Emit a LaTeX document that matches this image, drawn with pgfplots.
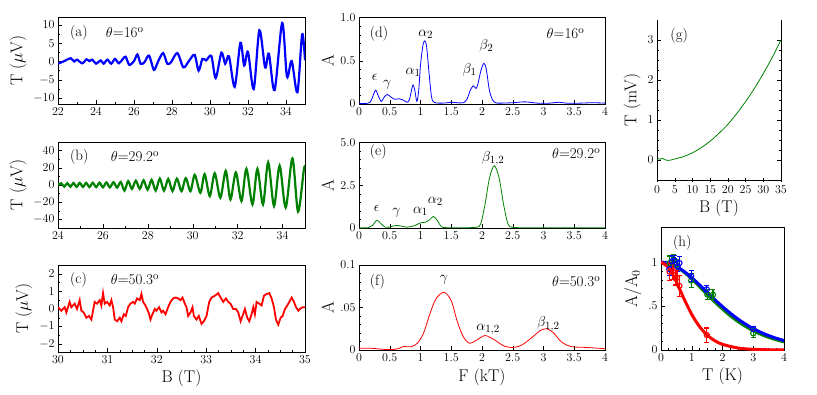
\documentclass[border=0pt]{standalone}
\usepackage{pgfplots}
\pgfplotsset{compat=1.18}
\definecolor{myblue}{RGB}{0,0,255}
\definecolor{mygreen}{RGB}{0,128,0}
\definecolor{myred}{RGB}{255,0,0}
\tikzset{annot/.style={font=\fontsize{15}{17}\selectfont}}
\pgfplotsset{
  every axis/.append style={
    scale only axis,
    tick align=inside,
    tick pos=left,
    major tick length=4pt,
    minor tick length=2.2pt,
    tick style={black, line width=0.4pt},
    axis line style={line width=0.5pt},
    tick label style={font=\fontsize{12}{14}\selectfont},
    label style={font=\fontsize{17}{20}\selectfont},
    clip=true,
  },
}
\begin{document}
\begin{tikzpicture}
\useasboundingbox (0pt,0pt) rectangle (817pt,-394pt);

% ---------------- (a)
\begin{axis}[at={(58pt,-17.5pt)}, anchor=north west, width=247pt, height=86.5pt,
  xmin=22, xmax=35, ymin=-11.6, ymax=12,
  xtick={22,24,...,34}, minor x tick num=1,
  ytick={-10,-5,0,5,10}, minor y tick num=1,
  ylabel={T ($\mu$V)}]
\addplot[myblue, line width=2.2pt, smooth, tension=0.5] coordinates {
(22.0,-0.6)(22.2,-0.2)(22.4,0.3)(22.67,0.9)(22.85,0.0)(23.0,0.5)(23.28,-0.5)(23.5,0.6)
(23.65,0.1)(23.81,0.5)(24.0,-0.6)(24.25,0.3)(24.4,-0.6)(24.6,0.5)(24.8,-0.6)(25.0,0.7)
(25.2,-0.5)(25.4,0.6)(25.56,1.3)(25.75,-0.9)(26.0,0.1)(26.18,1.9)(26.35,-0.6)(26.55,-0.2)
(26.79,1.6)(27.05,-2.3)(27.25,-0.2)(27.53,2.3)(27.75,-0.6)(27.95,-0.2)(28.28,2.3)(28.6,-1.6)
(28.9,0.2)(29.19,1.8)(29.4,-2.5)(29.6,0.7)(29.8,0.3)(30.07,1.5)(30.3,-4.5)(30.6,2.4)
(30.8,-0.6)(31.0,1.4)(31.3,-6.9)(31.6,5.1)(31.8,-1.1)(32.0,2.6)(32.3,-7.5)(32.6,8.5)
(32.9,-1.6)(33.1,2.1)(33.4,-7.8)(33.8,10.5)(34.05,-4.1)(34.3,0.1)(34.6,-8.4)(34.85,7.4)(35.0,0.3)
};
\node[annot, anchor=west] at (rel axis cs:0.035,0.82) {(a)};
\node[annot, anchor=west] at (rel axis cs:0.18,0.82) {$\theta$=16$^{\rm o}$};
\end{axis}

% ---------------- (b)
\begin{axis}[at={(58pt,-142pt)}, anchor=north west, width=247pt, height=86pt,
  xmin=24, xmax=35, ymin=-50, ymax=50,
  xtick={24,26,...,34}, minor x tick num=1,
  ytick={-40,-20,0,20,40}, minor y tick num=1,
  ylabel={T ($\mu$V)}]
\addplot[mygreen, line width=2.2pt, smooth, tension=0.5] coordinates {
(24.0,0)(24.145,2.0)(24.28,-2.0)(24.413,2.2)(24.55,-2.0)(24.688,2.3)(24.83,-2.2)(24.968,2.5)
(25.11,-2.3)(25.255,2.5)(25.40,-2.5)(25.548,2.6)(25.70,-2.5)(25.849,2.8)(26.00,-2.7)(26.157,3.0)
(26.31,-2.8)(26.472,3.2)(26.63,-3.0)(26.795,3.5)(26.96,-6.5)(27.125,4.5)(27.29,-4.5)(27.464,5.0)
(27.64,-4.5)(27.812,5.5)(27.99,-5.5)(28.168,6.0)(28.35,-6.5)(28.534,7.5)(28.72,-6.5)(28.909,7.0)
(29.10,-7.0)(29.295,7.5)(29.5,-7.2)(29.69,8.0)(29.9,-7.2)(30.09,11.8)(30.34,-9.1)(30.53,12.6)
(30.76,-12.9)(30.98,13.7)(31.23,-14.9)(31.47,16.4)(31.68,-16.8)(31.92,14.5)(32.17,-18.7)(32.39,18.7)
(32.66,-22.5)(32.88,18.7)(33.13,-22.5)(33.36,26.3)(33.62,-24.4)(33.87,22.5)(34.14,-26.3)(34.44,30.9)
(34.69,-30.9)(34.95,18)(35.0,20)
};
\node[annot, anchor=west] at (rel axis cs:0.035,0.83) {(b)};
\node[annot, anchor=west] at (rel axis cs:0.2,0.83) {$\theta$=29.2$^{\rm o}$};
\end{axis}

% ---------------- (c)
\begin{axis}[at={(58pt,-265pt)}, anchor=north west, width=247pt, height=87pt,
  xmin=30, xmax=35, ymin=-2.45, ymax=2.5,
  xtick={30,...,35}, minor x tick num=3,
  ytick={-2,-1,0,1,2}, minor y tick num=1,
  xlabel={B (T)}, ylabel={T ($\mu$V)}]
\addplot[myred, line width=1.8pt] coordinates {
(30.000,0.1)(30.068,-0.1)(30.135,0.1)(30.169,-0.2)(30.236,0.4)(30.270,0.1)(30.338,0.3)(30.385,0)
(30.439,0.5)(30.473,-0.1)(30.520,-0.2)(30.574,-0.5)(30.628,-0.4)(30.676,-0.6)(30.709,-0.1)(30.743,0.4)
(30.791,0.3)(30.845,0.5)(30.878,0.2)(30.912,0.9)(30.946,0.3)(30.993,0.4)(31.047,0.2)(31.081,0.5)
(31.115,0.1)(31.149,-0.6)(31.196,-0.7)(31.250,-0.5)(31.284,-0.7)(31.331,-0.3)(31.372,-0.4)(31.419,0.1)
(31.466,0.3)(31.520,0.4)(31.554,0.3)(31.601,0.6)(31.655,0.5)(31.689,0.85)(31.723,0.4)(31.770,0.2)
(31.804,0)(31.845,-0.3)(31.872,-0.6)(31.912,-0.3)(31.959,0)(31.993,-0.1)(32.047,0.1)(32.095,-0.2)
(32.128,-0.1)(32.176,-0.3)(32.230,0.1)(32.277,0.4)(32.331,0.6)(32.378,0.65)(32.432,0.6)(32.480,0.5)
(32.520,0.65)(32.568,0.3)(32.601,0.1)(32.635,-0.4)(32.682,-0.2)(32.723,0.1)(32.750,-0.4)(32.804,-0.6)
(32.851,-0.4)(32.905,-0.85)(32.953,-0.7)(33.007,-0.4)(33.061,0.4)(33.108,0.65)(33.176,0.75)(33.243,0.9)
(33.291,0.65)(33.345,0.4)(33.399,0.6)(33.446,0.4)(33.493,0.3)(33.547,0)(33.601,0)(33.649,-0.2)
(33.696,-0.7)(33.736,-0.4)(33.784,0)(33.831,-0.5)(33.872,-0.7)(33.919,-0.3)(33.953,0.1)(33.986,-0.3)
(34.020,0.4)(34.074,0.3)(34.122,0.2)(34.169,0.75)(34.223,0.85)(34.277,0.9)(34.324,0.6)(34.372,0.1)
(34.412,-0.6)(34.459,-0.9)(34.507,-0.5)(34.547,-0.4)(34.595,0)(34.642,0.2)(34.682,0.4)(34.730,0.65)
(34.777,0.4)(34.818,0.1)(34.865,-0.1)(34.899,0)(34.953,0.1)(35.000,0.1)
};
\node[annot, anchor=west] at (rel axis cs:0.035,0.83) {(c)};
\node[annot, anchor=west] at (rel axis cs:0.2,0.83) {$\theta$=50.3$^{\rm o}$};
\end{axis}

% ---------------- (d)
\begin{axis}[at={(359pt,-17.5pt)}, anchor=north west, width=246pt, height=86.5pt,
  xmin=0, xmax=4, ymin=0, ymax=1,
  xtick={0,0.5,...,4}, xticklabels={0,0.5,1,1.5,2,2.5,3,3.5,4},
  ytick={0,0.5,1}, yticklabels={0,0.5,1.0}, minor y tick num=4,
  ylabel={A}]
\addplot[myblue, line width=0.8pt, smooth, tension=0.5] coordinates {
(0.00,0.005)(0.10,0.005)(0.18,0.02)(0.22,0.08)(0.27,0.16)(0.31,0.10)(0.36,0.03)(0.41,0.08)
(0.46,0.11)(0.52,0.08)(0.58,0.055)(0.65,0.06)(0.72,0.045)(0.78,0.02)(0.82,0.05)(0.86,0.18)
(0.88,0.22)(0.91,0.15)(0.94,0.03)(0.97,0.15)(1.00,0.45)(1.04,0.68)(1.07,0.73)(1.10,0.66)
(1.14,0.35)(1.18,0.08)(1.22,0.02)(1.30,0.01)(1.40,0.012)(1.50,0.02)(1.60,0.015)(1.70,0.015)
(1.76,0.06)(1.81,0.16)(1.86,0.21)(1.90,0.18)(1.93,0.22)(1.98,0.38)(2.03,0.47)(2.07,0.40)
(2.12,0.16)(2.17,0.05)(2.22,0.015)(2.30,0.01)(2.50,0.015)(2.70,0.025)(2.90,0.01)(3.10,0.01)
(3.25,0.02)(3.40,0.008)(3.60,0.01)(3.80,0.015)(4.00,0.01)
};
\node[annot, anchor=west] at (rel axis cs:0.03,0.81) {(d)};
\node[annot, anchor=east] at (rel axis cs:0.93,0.81) {$\theta$=16$^{\rm o}$};
\node[annot] at (axis cs:0.255,0.31) {$\epsilon$};
\node[annot] at (axis cs:0.46,0.22) {$\gamma$};
\node[annot] at (axis cs:0.88,0.37) {$\alpha_1$};
\node[annot] at (axis cs:1.085,0.80) {$\alpha_2$};
\node[annot] at (axis cs:1.8,0.40) {$\beta_1$};
\node[annot] at (axis cs:2.07,0.67) {$\beta_2$};
\end{axis}

% ---------------- (e)
\begin{axis}[at={(359pt,-142.5pt)}, anchor=north west, width=246pt, height=85.5pt,
  xmin=0, xmax=4, ymin=0, ymax=5,
  xtick={0,0.5,...,4}, xticklabels={0,0.5,1,1.5,2,2.5,3,3.5,4},
  ytick={0,2.5,5}, yticklabels={0,2.5,5.0}, minor y tick num=4,
  ylabel={A}]
\addplot[mygreen, line width=0.8pt, smooth, tension=0.5] coordinates {
(0.00,0.01)(0.15,0.02)(0.22,0.15)(0.29,0.45)(0.36,0.25)(0.43,0.04)(0.52,0.08)(0.61,0.15)
(0.70,0.10)(0.78,0.05)(0.85,0.09)(0.92,0.16)(1.00,0.30)(1.08,0.34)(1.14,0.45)(1.21,0.68)
(1.27,0.45)(1.34,0.08)(1.42,0.02)(1.60,0.02)(1.80,0.02)(1.92,0.05)(1.98,0.25)(2.05,1.4)
(2.12,2.9)(2.20,3.64)(2.28,2.9)(2.35,1.4)(2.42,0.25)(2.48,0.05)(2.60,0.02)(3.00,0.02)
(3.50,0.02)(4.00,0.02)
};
\node[annot, anchor=west] at (rel axis cs:0.03,0.89) {(e)};
\node[annot, anchor=east] at (rel axis cs:0.995,0.87) {$\theta$=29.2$^{\rm o}$};
\node[annot] at (axis cs:0.29,1.17) {$\epsilon$};
\node[annot] at (axis cs:0.61,0.88) {$\gamma$};
\node[annot] at (axis cs:1.0,0.97) {$\alpha_1$};
\node[annot] at (axis cs:1.24,1.56) {$\alpha_2$};
\node[annot] at (axis cs:2.18,4.08) {$\beta_{1,2}$};
\end{axis}

% ---------------- (f)
\begin{axis}[at={(359pt,-265pt)}, anchor=north west, width=246pt, height=85pt,
  xmin=0, xmax=4, ymin=0, ymax=0.1,
  xtick={0,0.5,...,4}, xticklabels={0,0.5,1,1.5,2,2.5,3,3.5,4},
  ytick={0,0.05,0.1}, yticklabels={0,.05,0.1}, minor y tick num=4,
  xlabel={F (kT)}, ylabel={A}]
\addplot[myred, line width=0.8pt, smooth, tension=0.5] coordinates {
(0.00,0.002)(0.20,0.002)(0.40,0.0008)(0.55,0.0005)(0.65,0.002)(0.72,0.004)(0.85,0.004)(0.95,0.008)
(1.05,0.020)(1.15,0.042)(1.25,0.060)(1.38,0.068)(1.50,0.058)(1.60,0.033)(1.70,0.015)(1.80,0.008)
(1.92,0.012)(2.05,0.017)(2.20,0.012)(2.35,0.005)(2.50,0.003)(2.65,0.006)(2.80,0.014)(2.95,0.023)
(3.05,0.025)(3.15,0.021)(3.30,0.009)(3.45,0.004)(3.70,0.003)(4.00,0.0015)
};
\node[annot, anchor=west] at (rel axis cs:0.03,0.80) {(f)};
\node[annot, anchor=east] at (rel axis cs:0.995,0.80) {$\theta$=50.3$^{\rm o}$};
\node[annot] at (axis cs:1.38,0.083) {$\gamma$};
\node[annot] at (axis cs:2.1,0.0243) {$\alpha_{1,2}$};
\node[annot] at (axis cs:3.08,0.0306) {$\beta_{1,2}$};
\end{axis}

% ---------------- (g)
\begin{axis}[at={(657pt,-20pt)}, anchor=north west, width=124pt, height=160pt,
  axis x line=bottom, axis y line=box, x axis line style={-}, y axis line style={-},
  xmin=0, xmax=35, ymin=-0.5, ymax=3.5,
  xtick={0,5,...,35}, ytick={0,1,2,3}, minor y tick num=3,
  xlabel={B (T)}, ylabel={T (mV)},
  xlabel style={font=\fontsize{17}{20}\selectfont},
  ylabel style={font=\fontsize{17}{20}\selectfont}]
\addplot[mygreen, line width=0.8pt, smooth] coordinates {
(0,0.02)(0.5,0.03)(1,0.02)(1.5,0.04)(2,0.02)(2.5,0.0)(3,-0.01)(4,0.0)(5,0.025)(7.5,0.085)
(10,0.18)(12.5,0.31)(15,0.47)(17.5,0.67)(20,0.89)(22.5,1.16)(25,1.46)(27.5,1.79)(30,2.16)
(32.5,2.56)(35,3.0)
};
\node[annot, anchor=west] at (rel axis cs:0.08,0.9) {(g)};
\end{axis}

% ---------------- (h)
\begin{axis}[at={(661pt,-227pt)}, anchor=north west, width=123pt, height=123pt,
  xmin=0, xmax=4, ymin=0, ymax=1.4,
  xtick={0,1,2,3,4}, minor x tick num=3,
  ytick={0,0.5,1}, yticklabels={0,.5,1}, minor y tick num=4,
  xlabel={T (K)}, ylabel={A/A$_0$}]
\addplot[mygreen, line width=3pt, smooth] coordinates {
(0,1)(0.25,0.986)(0.5,0.947)(0.75,0.886)(1,0.809)(1.25,0.722)(1.5,0.634)(1.75,0.547)(2,0.466)
(2.25,0.391)(2.5,0.325)(2.75,0.268)(3,0.219)(3.25,0.178)(3.5,0.144)(3.75,0.116)(4,0.0925)};
\addplot[myblue, line width=3pt, smooth] coordinates {
(0,1)(0.25,0.988)(0.5,0.951)(0.75,0.894)(1,0.823)(1.25,0.742)(1.5,0.657)(1.75,0.573)(2,0.494)
(2.25,0.420)(2.5,0.353)(2.75,0.2945)(3,0.243)(3.25,0.2005)(3.5,0.164)(3.75,0.1334)(4,0.108)};
\addplot[myred, line width=3pt, smooth] coordinates {
(0,1)(0.25,0.936)(0.5,0.776)(0.75,0.581)(1,0.405)(1.25,0.268)(1.5,0.17)(1.75,0.1057)(2,0.0642)
(2.5,0.0226)(3,0.0077)(3.5,0.0025)(4,0.0008)};
\addplot[mygreen, only marks, mark=o, mark size=2.6pt, line width=1.1pt,
  error bars/.cd, y dir=both, y explicit, error bar style={line width=1.1pt}, error mark options={rotate=90, mark size=2.5pt, line width=1.1pt}]
  coordinates {(0.28,0.99)+-(0,0.08)(0.41,1.03)+-(0,0.06)(0.50,0.97)+-(0,0.06)(0.98,0.79)+-(0,0.08)
  (1.51,0.63)+-(0,0.06)(1.69,0.63)+-(0,0.06)(3.0,0.19)+-(0,0.05)};
\addplot[myblue, only marks, mark=o, mark size=2.6pt, line width=1.1pt,
  error bars/.cd, y dir=both, y explicit, error bar style={line width=1.1pt}, error mark options={rotate=90, mark size=2.5pt, line width=1.1pt}]
  coordinates {(0.27,0.92)+-(0,0.07)(0.36,1.01)+-(0,0.06)(0.44,1.02)+-(0,0.06)(0.54,0.95)+-(0,0.06)
  (0.60,0.99)+-(0,0.07)(0.98,0.84)+-(0,0.06)(1.49,0.69)+-(0,0.04)(3.0,0.24)+-(0,0.03)};
\addplot[myred, only marks, mark=o, mark size=2.6pt, line width=1.1pt,
  error bars/.cd, y dir=both, y explicit, error bar style={line width=1.1pt}, error mark options={rotate=90, mark size=2.5pt, line width=1.1pt}]
  coordinates {(0.28,0.89)+-(0,0.1)(0.39,0.90)+-(0,0.1)(0.46,0.82)+-(0,0.08)(0.52,0.82)+-(0,0.08)
  (0.60,0.73)+-(0,0.12)(1.49,0.17)+-(0,0.08)};
\node[annot, anchor=west] at (rel axis cs:0.07,0.87) {(h)};
\end{axis}
\end{tikzpicture}
\end{document}
